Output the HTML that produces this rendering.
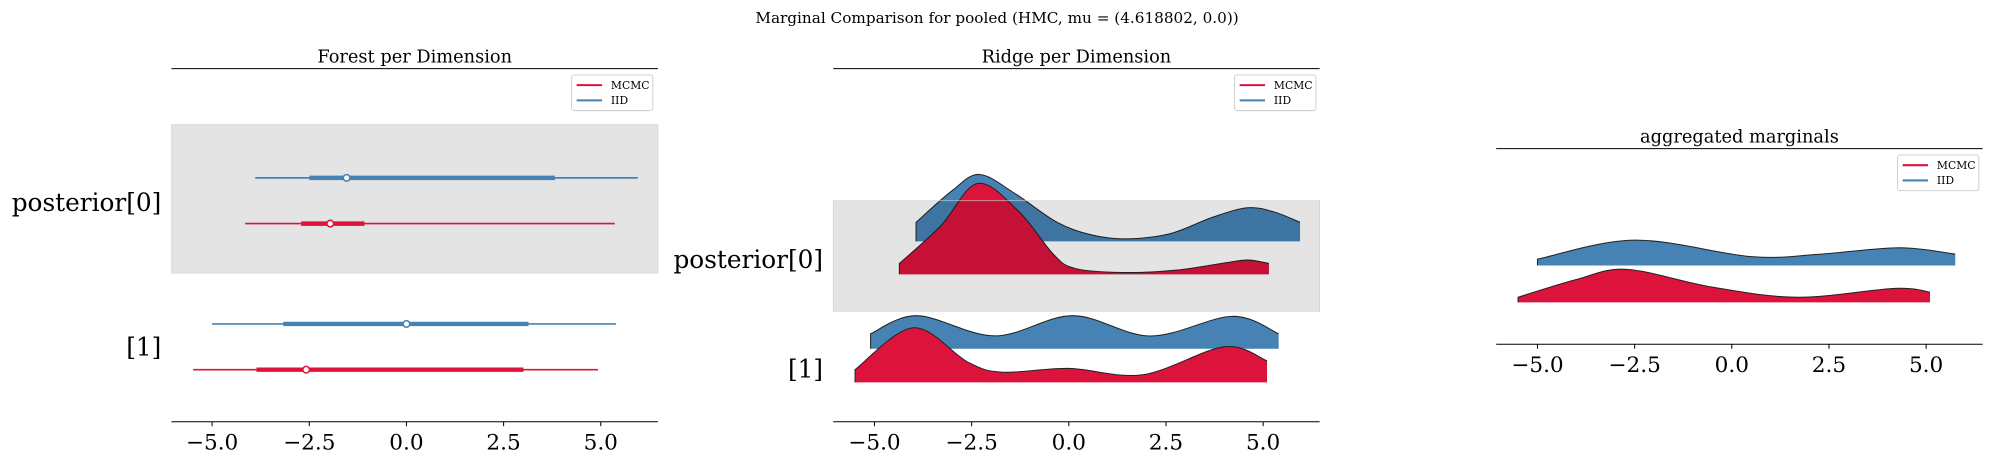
<!DOCTYPE html>
<html><head><meta charset="utf-8">
<style>
html,body{margin:0;padding:0;background:#fff;}
svg{display:block;font-family:"DejaVu Serif","Liberation Serif",serif;}
</style></head>
<body>
<svg id="fig" width="1989" height="465" viewBox="0 0 1566 366" xmlns="http://www.w3.org/2000/svg">
<text x="785" y="18" text-anchor="middle" font-size="12">Marginal Comparison for pooled (HMC, mu = (4.618802, 0.0))</text>
<g id="g"></g>
</svg>
<script>
// ---- data ----
const tickValues = [-5, -2.5, 0, 2.5, 5];
const tickLabels = ["\u22125.0", "\u22122.5", "0.0", "2.5", "5.0"];
const rowLabels = ["posterior[0]", "[1]"];
// forest: [thinLo, thickLo, median, thickHi, thinHi]
const forestIID = [[-3.89, -2.5, -1.54, 3.82, 5.95], [-5.0, -3.17, 0.0, 3.14, 5.39]];
const forestMCMC = [[-4.15, -2.71, -1.96, -1.08, 5.36], [-5.49, -3.86, -2.58, 3.01, 4.93]];
// ridge densities (x, height)
const ridge0IIDx = [-3.93, -3.0, -2.3, -1.4, -0.3, 0.6, 1.48, 2.6, 3.7, 4.6, 5.3, 5.95];
const ridge0IIDy = [15, 40, 52.7, 38, 15, 5, 2, 6, 19, 26.5, 23, 15];
const ridge0MCx = [-4.36, -3.3, -2.35, -1.3, -0.4, 0.16, 1.42, 2.8, 4.0, 4.6, 5.15];
const ridge0MCy = [8.6, 38, 71.6, 50, 16, 4.7, 1.5, 3.5, 9, 11.3, 8.6];
const ridge1IIDx = [-5.1, -3.9, -1.9, 0.1, 2.1, 4.2, 5.4];
const ridge1IIDy = [11.8, 26, 10.1, 26, 10, 25.5, 11.8];
const ridge1MCx = [-5.5, -4.0, -2.6, -1.7, 0.0, 1.9, 4.0, 5.1];
const ridge1MCy = [10, 43, 16, 8, 11, 6, 28, 17];
const aggIIDx = [-5.0, -2.5, 0.5, 2.3, 4.3, 5.75];
const aggIIDy = [5, 20, 7, 9, 14, 9];
const aggMCx = [-5.5, -4.0, -2.7, -0.5, 1.7, 4.2, 5.1];
const aggMCy = [4, 18, 26, 12, 4, 11, 8];

const RED = "#dc143c", BLUE = "#4682b4";
const NS = "http://www.w3.org/2000/svg";
const G = document.getElementById("g");
function el(tag, attrs, parent, txt) {
  const e = document.createElementNS(NS, tag);
  for (const k in attrs) e.setAttribute(k, attrs[k]);
  if (txt !== undefined) e.textContent = txt;
  (parent || G).appendChild(e);
  return e;
}
const UNIT = 30.6;
function xs(zero) { return v => zero + v * UNIT; }

function smoothPath(pts) {
  let d = "M" + pts[0][0] + "," + pts[0][1];
  for (let i = 0; i < pts.length - 1; i++) {
    const p0 = pts[i - 1] || pts[i], p1 = pts[i], p2 = pts[i + 1], p3 = pts[i + 2] || p2;
    const c1 = [p1[0] + (p2[0] - p0[0]) / 6, p1[1] + (p2[1] - p0[1]) / 6];
    const c2 = [p2[0] - (p3[0] - p1[0]) / 6, p2[1] - (p3[1] - p1[1]) / 6];
    d += " C" + c1 + " " + c2 + " " + p2;
  }
  return d;
}
function ridge(x, xv, yv, base, color, name) {
  const pts = xv.map((v, i) => [x(v), base - yv[i]]);
  const top = smoothPath(pts);
  const fillD = top + " L" + x(xv[xv.length - 1]) + "," + base + " L" + x(xv[0]) + "," + base + " Z";
  const f = el("path", { d: fillD, fill: color, stroke: "none" });
  
  
  const l = el("path", { d: "M" + x(xv[0]) + "," + base + " L" + pts[0] + " " + top.slice(1), fill: "none", stroke: "#222", "stroke-width": 0.8 });
  
  
}
function axisX(x, x0, x1, y, tag) {
  for (let i = 0; i < tickValues.length; i++) {
    const px = x(tickValues[i]);
    const t = el("line", { x1: px, x2: px, y1: y, y2: y + 3.5, stroke: "#000", "stroke-width": 0.8 });
    
    
    const lb = el("text", { x: px, y: y + 22, "text-anchor": "middle", "font-size": 17 }, G, tickLabels[i]);
    
    
  }
  const s = el("line", { x1: x0, x2: x1, y1: y, y2: y, stroke: "#000", "stroke-width": 0.8 });
  
  
}
function topSpine(x0, x1, y, title, tag) {
  const s = el("line", { x1: x0, x2: x1, y1: y, y2: y, stroke: "#000", "stroke-width": 0.8 });
  
  
  const t = el("text", { x: (x0 + x1) / 2, y: y - 5, "text-anchor": "middle", "font-size": 14 }, G, title);
  
  
}
function legend(x, y, tag) {
  const g = el("g", {});
  
  
  el("rect", { x: x, y: y, width: 64, height: 28, rx: 2, fill: "#fff", stroke: "#d0d0d0", "stroke-width": 0.8 }, g);
  const items = [["MCMC", RED], ["IID", BLUE]];
  items.forEach((it, i) => {
    const e = el("g", {}, g);
    
    
    el("line", { x1: x + 4, x2: x + 24, y1: y + 8 + i * 12, y2: y + 8 + i * 12, stroke: it[1], "stroke-width": 1.6 }, e);
    el("text", { x: x + 31, y: y + 11 + i * 12, "font-size": 8.5 }, e, it[0]);
  });
}
function rowLabel(x, y, txt, i) {
  const t = el("text", { x: x, y: y, "text-anchor": "end", "font-size": 19.5 }, G, txt);
  
  
}

// ---- left: forest ----
(function () {
  const x = xs(320);
  const band = el("rect", { x: 135, y: 98, width: 383, height: 117, fill: "#e4e4e4", stroke: "#d8d8d8", "stroke-width": 0.6 });
  
  
  topSpine(135, 518, 54, "Forest per Dimension", "forest");
  legend(450, 59, "forest");
  const rowsY = [[140, 176], [255, 291]];
  [forestIID, forestMCMC].forEach((ser, si) => {
    const color = si === 0 ? BLUE : RED;
    ser.forEach((v, r) => {
      const y = rowsY[r][si];
      const g = el("g", {});
      
      
      el("line", { x1: x(v[0]), x2: x(v[4]), y1: y, y2: y, stroke: color, "stroke-width": 1.3 }, g);
      el("line", { x1: x(v[1]), x2: x(v[3]), y1: y, y2: y, stroke: color, "stroke-width": 3.5 }, g);
      el("circle", { cx: x(v[2]), cy: y, r: 2.6, fill: "#fff", stroke: color, "stroke-width": 1.2 }, g);
    });
  });
  rowLabel(127, 166, rowLabels[0], 0);
  rowLabel(127, 280, rowLabels[1], 1);
  axisX(x, 135, 518, 332, "forest");
})();

// ---- middle: ridge ----
(function () {
  const x = xs(841.5);
  topSpine(656, 1039, 54, "Ridge per Dimension", "ridge");
  legend(972, 59, "ridge");
  ridge(x, ridge1IIDx, ridge1IIDy, 274.5, BLUE, "ridge-iid-1");
  ridge(x, ridge1MCx, ridge1MCy, 301, RED, "ridge-mcmc-1");
  ridge(x, ridge0IIDx, ridge0IIDy, 190, BLUE, "ridge-iid-0");
  ridge(x, ridge0MCx, ridge0MCy, 216, RED, "ridge-mcmc-0");
  const band = el("rect", { x: 656, y: 158, width: 383, height: 87, fill: "#000", "fill-opacity": 0.105, stroke: "#ccc", "stroke-width": 0.5 });
  
  
  rowLabel(648, 211, rowLabels[0], 0);
  rowLabel(648, 297, rowLabels[1], 1);
  axisX(x, 656, 1039, 332, "ridge");
})();

// ---- right: aggregated ----
(function () {
  const x = xs(1363.5);
  topSpine(1178, 1561, 117, "aggregated marginals", "agg");
  legend(1494, 122, "agg");
  ridge(x, aggIIDx, aggIIDy, 209, BLUE, "agg-iid");
  ridge(x, aggMCx, aggMCy, 238, RED, "agg-mcmc");
  axisX(x, 1178, 1561, 271, "agg");
})();
</script>
</body></html>
